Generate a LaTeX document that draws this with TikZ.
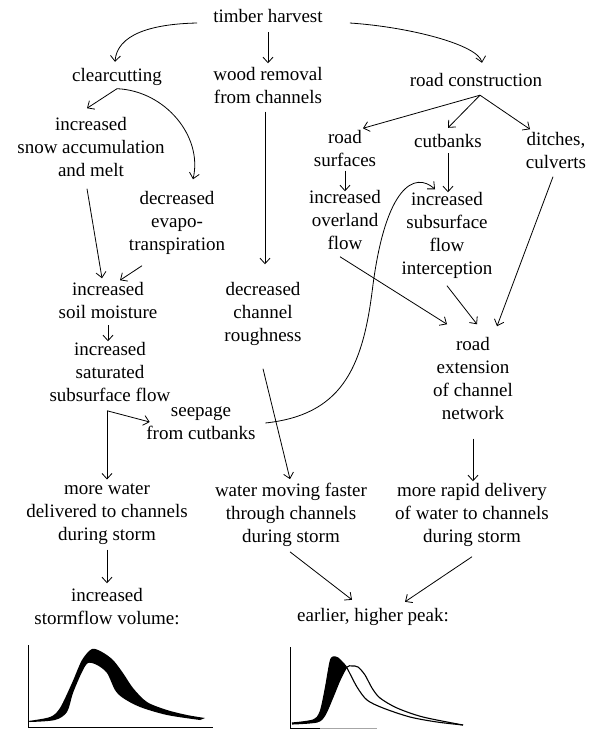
\documentclass[tikz,border=0pt]{standalone}
\usepackage{fontspec}
\setmainfont{Liberation Serif}
\usetikzlibrary{arrows.meta,calc}
\begin{document}
\begin{tikzpicture}[x=1pt,y=-1pt,
  lbl/.style={align=center, inner sep=0pt, font=\fontsize{19}{23}\selectfont,
    execute at begin node=\strut, execute at end node=\strut},
  arr/.style={-{Straight Barb[length=5.5pt,width=10pt]}, line width=0.8pt},
  axis/.style={line width=0.9pt},
  hydro/.style={line width=1.1pt},
]
\useasboundingbox[fill=white] (0,0) rectangle (598,730);

% nodes
\node[lbl] (th)    at (268,18)    {timber harvest};
\node[lbl] (cc)    at (117,77)    {clearcutting};
\node[lbl] (wr)    at (268,88.5)  {wood removal\\from channels};
\node[lbl] (rc)    at (476,82)    {road construction};
\node[lbl] (snow)  at (91,150.5)  {increased\\snow accumulation\\and melt};
\node[lbl] (evap)  at (177,224)   {decreased\\evapo-\\transpiration};
\node[lbl] (rs)    at (345,152)   {road\\surfaces};
\node[lbl] (cb)    at (448,143)   {cutbanks};
\node[lbl] (dc)    at (556,154)   {ditches,\\culverts};
\node[lbl] (ol)    at (345,223.5) {increased\\overland\\flow};
\node[lbl] (sf)    at (447,236.5) {increased\\subsurface\\flow\\interception};
\node[lbl] (soil)  at (108,303.5) {increased\\soil moisture};
\node[lbl] (rough) at (263,315)   {decreased\\channel\\roughness};
\node[lbl] (sat)   at (110,375)   {increased\\saturated\\subsurface flow};
\node[lbl] (ext)   at (473,382)   {road\\extension\\of channel\\network};
\node[lbl] (seep)  at (201,426.5) {seepage\\from cutbanks};
\node[lbl] (mw)    at (107,515.5) {more water\\delivered to channels\\during storm};
\node[lbl] (wm)    at (291,516)   {water moving faster\\through channels\\during storm};
\node[lbl] (rd)    at (472,516)   {more rapid delivery\\of water to channels\\during storm};
\node[lbl] (sv)    at (107,610)   {increased\\stormflow volume:};
\node[lbl] (ep)    at (373,617)   {earlier, higher peak:};

% connectors
\draw[arr] ([shift={(-16,5)}]th.west) .. controls +(-47,1) and +(2,-27) .. ([shift={(-2,-3.5)}]cc.north);
\draw[arr] ([shift={(0,2.5)}]th.south) -- ([shift={(0,-3.5)}]wr.north);
\draw[arr] ([shift={(27,5)}]th.east) .. controls +(60,4) and +(-4,-18) .. ([shift={(6,-7.5)}]rc.north);
\draw[arr] (cc.south) -- ([shift={(-4,-9)}]snow.north);
\draw[arr] (cc.south) .. controls +(48,2) and +(10,-43) .. ([shift={(16,-11.5)}]evap.north);
\draw[arr] ([shift={(-4,5)}]snow.south) -- ([shift={(-6,-3.5)}]soil.north);
\draw[arr] ([shift={(-35,8.5)}]evap.south) -- ([shift={(12,-1.5)}]soil.north);
\draw[arr] ([shift={(-3,1.5)}]wr.south) -- ([shift={(2,-17.5)}]rough.north);
\draw[arr] ([shift={(4,1.5)}]rc.south) -- ([shift={(18,-2)}]rs.north);
\draw[arr] ([shift={(4,1.5)}]rc.south) -- ([shift={(0,-3.5)}]cb.north);
\draw[arr] ([shift={(4,1.5)}]rc.south) -- ([shift={(-26,-3)}]dc.north);
\draw[arr] ([shift={(0,-3)}]rs.south) -- ([shift={(0,1)}]ol.north);
\draw[arr] ([shift={(0,-1.5)}]cb.south) -- ([shift={(1,0.5)}]sf.north);
\draw[arr] ([shift={(-3,1)}]dc.south) -- ([shift={(24,-11)}]ext.north);
\draw[arr] ([shift={(-5,0)}]ol.south) -- ([shift={(-26,-13)}]ext.north);
\draw[arr] ([shift={(0,4.5)}]sf.south) -- ([shift={(4,-13)}]ext.north);
\draw[arr] (soil.south) -- ([shift={(-2,-0.5)}]sat.north);
\draw[arr] ([shift={(-3,2.5)}]sat.south) -- ([shift={(0,-4)}]mw.north);
\draw[arr] ([shift={(-3,2.5)}]sat.south) -- ([shift={(3.5,-4.5)}]seep.west);
\draw[arr] ([shift={(0,20.5)}]rough.south) -- ([shift={(-1,-3.5)}]wm.north);
\draw[arr] ([shift={(9.5,-3.5)}]seep.east) .. controls +(75,-8) and +(-10,80) .. ++(107,-133)
           .. controls +(13,-105) and +(-20,-18) .. ([shift={(-12,-2.5)}]sf.north);
\draw[arr] ([shift={(0,12)}]ext.south) -- ([shift={(1,-1.5)}]rd.north);
\draw[arr] ([shift={(0,2)}]mw.south) -- ([shift={(0,-5)}]sv.north);
\draw[arr] ([shift={(-1,2.5)}]wm.south) -- ([shift={(-21,-5.5)}]ep.north);
\draw[arr] ([shift={(0,7.5)}]rd.south) -- ([shift={(32,-3.5)}]ep.north);

% hydrograph 1
\draw[axis] (28,645) -- (28,727) -- (213,727);
\fill plot[smooth] coordinates {(28,721) (50,717) (60,708) (72,683) (82,660) (92,649) (102,652) (113,660) (123,673) (133,688) (147,702) (167,710) (187,715) (205,718)}
  -- plot[smooth] coordinates {(200,720) (167,715) (140,707) (123,698) (115,690) (107,673) (97,665) (88,663) (82,672) (73,693) (67,712) (55,720) (30,722)} -- cycle;

% hydrograph 2
\draw[axis] (290,647) -- (290,728) -- (320,728);
\draw[axis,black!35] (320,728) -- (377,728);
\fill plot[smooth] coordinates {(292,723) (313,720) (320,712) (325,690) (330,662) (333,657) (338,658) (343,663) (347,668)}
  -- plot[smooth] coordinates {(347,667) (340,680) (333,697) (325,715) (317,722) (292,724)} -- cycle;
\draw[hydro] plot[smooth] coordinates {(292,723) (313,720) (320,712) (325,690) (330,662) (333,657) (338,658) (343,663) (347,668) (357,687) (367,700) (383,708) (410,717) (437,722) (463,725)};
\draw[hydro] plot[smooth] coordinates {(292,724) (317,722) (325,715) (333,697) (340,680) (347,667) (352,666) (358,667) (365,675) (372,688) (380,698) (397,708) (423,717) (463,725)};
\end{tikzpicture}
\end{document}
